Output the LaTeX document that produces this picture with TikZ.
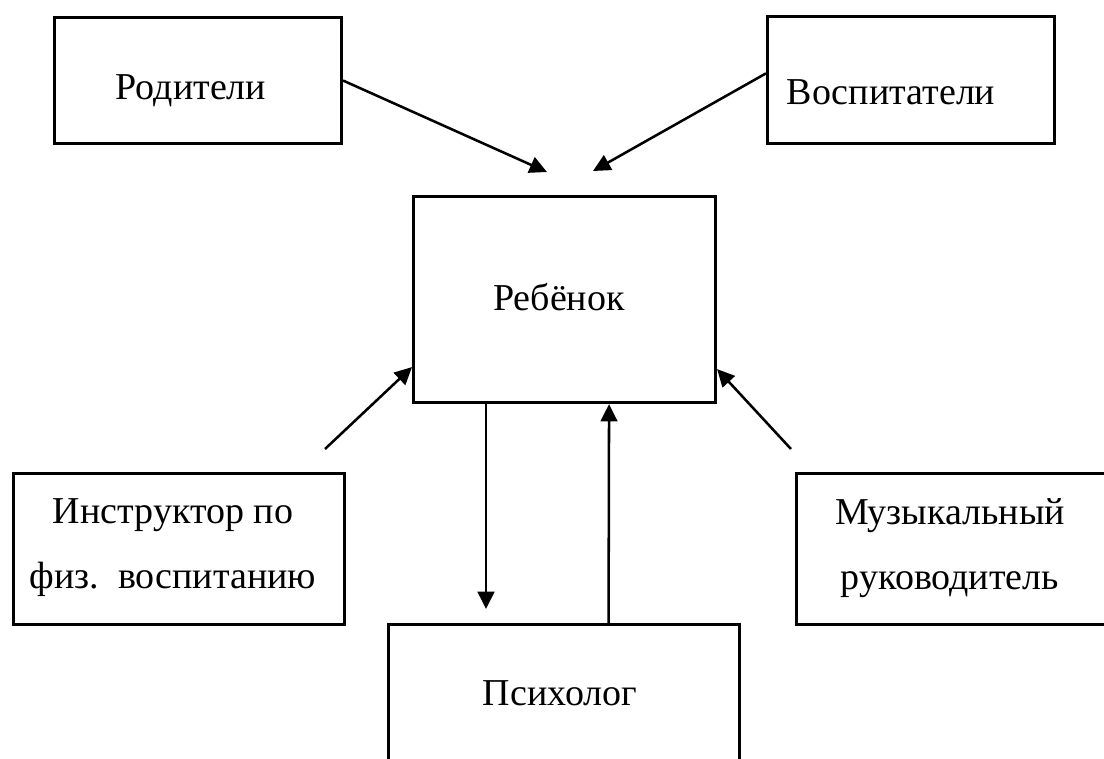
\documentclass[tikz,border=0pt]{standalone}
\usepackage{fontspec}
\setmainfont{Liberation Serif}
\usetikzlibrary{arrows.meta}
\tikzset{
	box/.style={draw, line width=2.3pt, anchor=north west, inner sep=0pt},
	txt/.style={font=\fontsize{28.5}{48.75}\selectfont, align=center, inner sep=0pt},
	arr/.style={line width=1.9pt, -{Triangle[length=13pt, width=12.5pt]}}
}

\begin{document}
\begin{tikzpicture}[x=0.75pt, y=-0.75pt]
		%%%%% START %%%%%
		
		\useasboundingbox (0, 0) rectangle (1104, 758);
		\clip (0, 0) rectangle (1104, 758);
		
		\node[box, minimum width=215.25pt, minimum height=94.5pt] (rod) at (53, 16) {};
		\node[txt] (rodt) at (191, 91) {Родители};
		
		\node[box, minimum width=215.25pt, minimum height=95.25pt] (vosp) at (766, 15) {};
		\node[txt] (vospt) at (891, 92) {Воспитатели};
		
		\node[box, minimum width=226.5pt, minimum height=154.5pt] (reb) at (412, 195) {};
		\node[txt] (rebt) at (559, 297) {Ребёнок};
		
		\node[box, minimum width=248.25pt, minimum height=113.25pt] (instr) at (12, 472) {};
		\node[txt] (instrt) at (173, 548) {Инструктор по\\физ.~~воспитанию};
		
		\node[box, minimum width=248.25pt, minimum height=113.25pt] (muz) at (795, 472) {};
		\node[txt] (muzt) at (950, 548) {Музыкальный\\руководитель};
		
		\node[box, minimum width=263.25pt, minimum height=105pt] (psy) at (387, 623) {};
		\node[txt] (psyt) at (560, 693) {Психолог};
		
		\coordinate (rodend) at (547, 172);
		\coordinate (vospend) at (593, 171);
		\coordinate (instrbeg) at (325, 449);
		\coordinate (muzbeg) at (791, 449);
		\coordinate (dnend) at (486, 609);
		
		\draw[arr] (rod.east) -- (rodend);
		\draw[arr] ([yshift=5pt]vosp.west) -- (vospend);
		\draw[arr] (instrbeg) -- ([yshift=27.75pt]reb.south west);
		\draw[arr] (muzbeg) -- ([yshift=26.25pt]reb.south east);
		\draw[arr] (reb.south -| dnend) -- (dnend);
		\draw[arr] ([xshift=33.4pt]psy.north) -- ([xshift=33.4pt]reb.south);
		
		%%%%% END %%%%%
\end{tikzpicture}
\end{document}
